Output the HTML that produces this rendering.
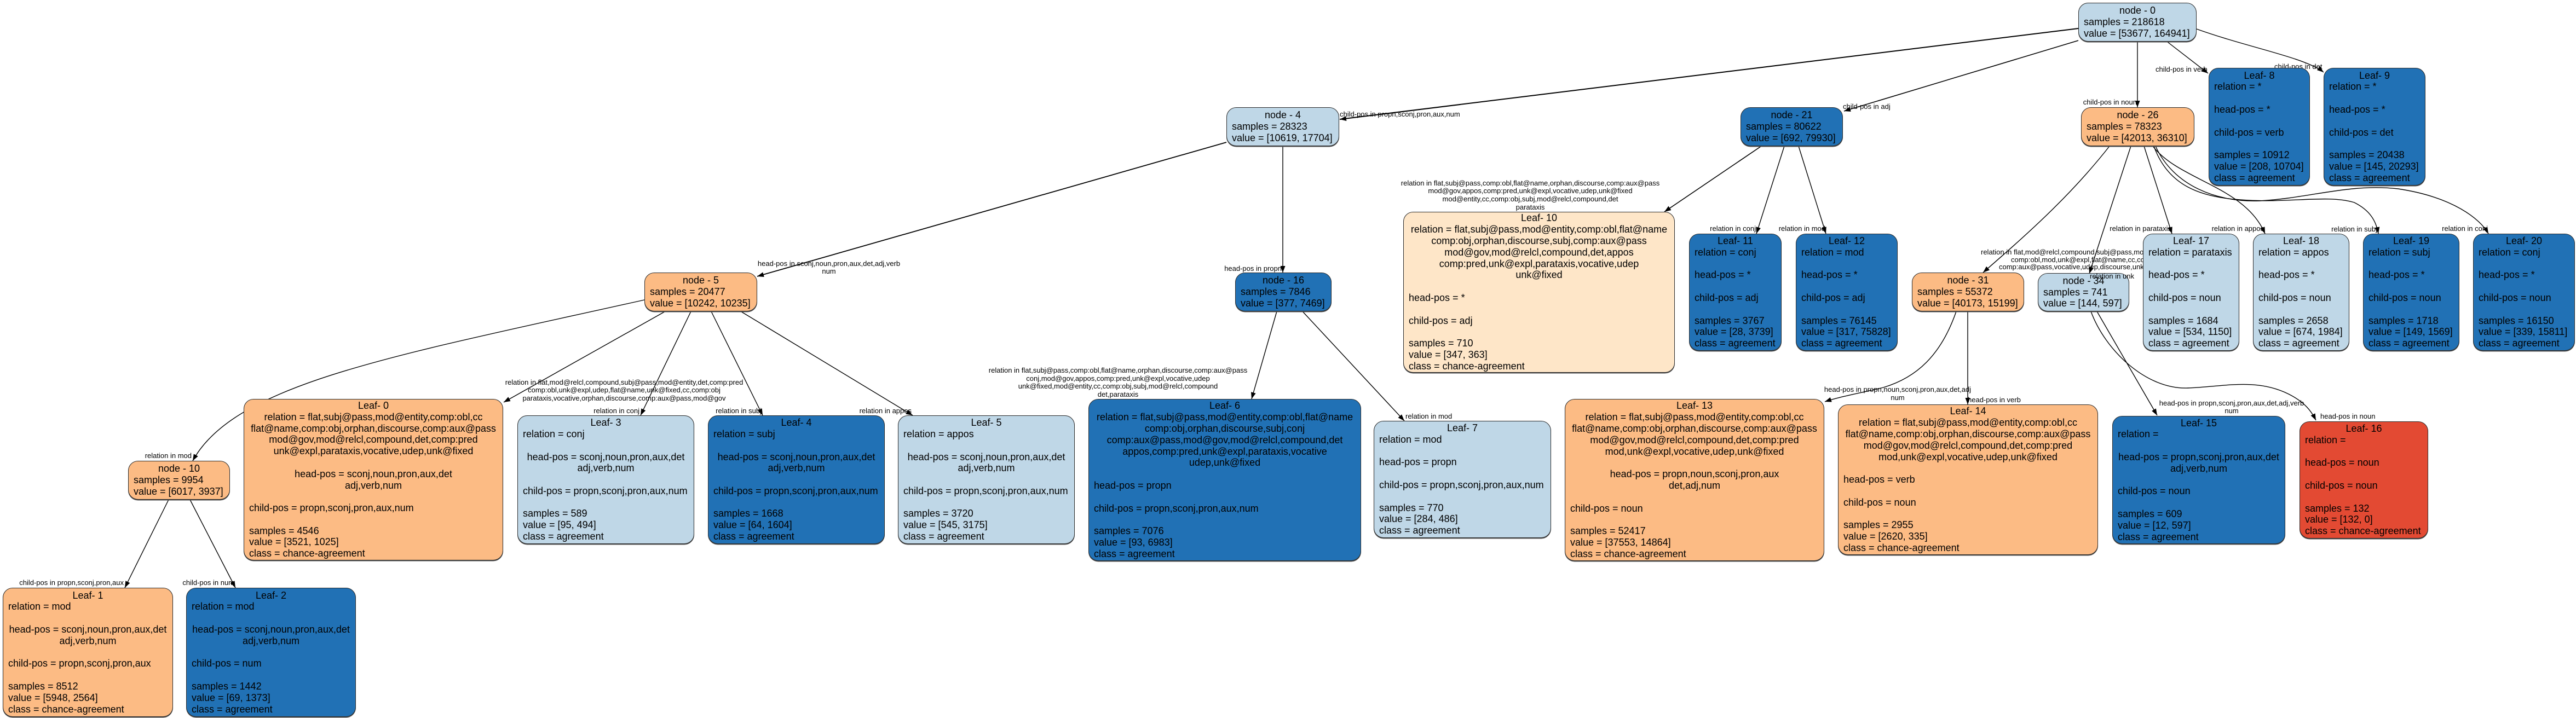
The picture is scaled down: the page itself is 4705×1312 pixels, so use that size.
<!DOCTYPE html>
<html><head><meta charset="utf-8"><style>
html,body{margin:0;padding:0;background:#fff;}
body{width:4705px;height:1312px;position:relative;overflow:hidden;font-family:"Liberation Sans",Arial,sans-serif;}
.n{position:absolute;box-sizing:border-box;border:1.6px solid #2a2a2a;border-radius:18px;display:flex;flex-direction:column;justify-content:center;padding:0 9px;font-size:18px;color:#000;box-shadow:0 1.5px 0 #555;}
.n>div{height:20.8px;line-height:20.8px;white-space:pre;text-align:left;}
.n>div.c{text-align:center;}
.lb{background:#bfd7e7;}
.bl{background:#2171b5;}
.or{background:#fcbb84;}
.pe{background:#fee6c8;}
.rd{background:#e34a33;}
svg{position:absolute;left:0;top:0;}
svg text{font-family:"Liberation Sans",Arial,sans-serif;font-size:13px;fill:#000;}
</style></head><body>
<svg width="4705" height="1312" viewBox="0 0 4705 1312">
<defs><marker id="a" markerUnits="userSpaceOnUse" markerWidth="13" markerHeight="10" refX="12" refY="4.5" orient="auto"><path d="M0,0 L12,4.5 L0,9 z" fill="#000"/></marker></defs>
<g fill="none" stroke="#000" stroke-width="1.4" marker-end="url(#a)">
<path d="M3796,52 L2447,218" stroke-width="2"/>
<path d="M3796,74 L3368,203" stroke-width="1.6"/>
<path d="M3904,76 L3904,196"/>
<path d="M3958,76 L4033,134"/>
<path d="M4012,53 C4110,88 4210,105 4244,132"/>
<path d="M2240,260 L1383,505" stroke-width="1.8"/>
<path d="M2343,267 L2343,498"/>
<path d="M3217,267 L3040,387" stroke-width="1.6"/>
<path d="M3259,267 L3208,427"/>
<path d="M3285,267 L3335,427"/>
<path d="M3853,267 C3780,360 3700,430 3622,498"/>
<path d="M3892,267 L3816,500"/>
<path d="M3916,267 L3967,427"/>
<path d="M3932,267 C3980,330 4100,340 4137,427"/>
<path d="M3934,267 C3960,340 4020,360 4091,365 C4180,372 4250,355 4300,370 C4330,385 4340,405 4344,427"/>
<path d="M3937,267 C3970,340 4050,370 4127,367 C4220,362 4290,335 4380,345 C4480,360 4530,400 4545,427"/>
<path d="M3573,569 C3545,650 3500,690 3440,708 C3390,720 3360,725 3333,734"/>
<path d="M3594,569 L3594,739"/>
<path d="M3830,569 L3940,759"/>
<path d="M3819,569 C3845,640 3920,712 3996,709 C4060,707 4120,690 4180,720 C4210,735 4222,752 4230,768"/>
<path d="M1177,548 C720,650 430,700 352,842"/>
<path d="M1215,569 L920,735"/>
<path d="M1262,569 L1170,759"/>
<path d="M1299,569 L1393,759"/>
<path d="M1353,569 L1667,759"/>
<path d="M308,913 L228,1074"/>
<path d="M347,913 L430,1074"/>
<path d="M2332,569 L2286,729"/>
<path d="M2379,569 L2565,769"/>
</g>
<text x="226" y="1069" text-anchor="end">child-pos in propn,sconj,pron,aux</text>
<text x="428" y="1069" text-anchor="end">child-pos in num</text>
<text x="350" y="837" text-anchor="end">relation in mod</text>
<text x="1140" y="703" text-anchor="middle">relation in flat,mod@relcl,compound,subj@pass,mod@entity,det,comp:pred</text>
<text x="1140" y="717" text-anchor="middle">comp:obl,unk@expl,udep,flat@name,unk@fixed,cc,comp:obj</text>
<text x="1140" y="732" text-anchor="middle">parataxis,vocative,orphan,discourse,comp:aux@pass,mod@gov</text>
<text x="1168" y="755" text-anchor="end">relation in conj</text>
<text x="1391" y="755" text-anchor="end">relation in subj</text>
<text x="1665" y="755" text-anchor="end">relation in appos</text>
<text x="1514" y="486" text-anchor="middle">head-pos in sconj,noun,pron,aux,det,adj,verb</text>
<text x="1514" y="500" text-anchor="middle">num</text>
<text x="2341" y="495" text-anchor="end">head-pos in propn</text>
<text x="2042" y="681" text-anchor="middle">relation in flat,subj@pass,comp:obl,flat@name,orphan,discourse,comp:aux@pass</text>
<text x="2042" y="696" text-anchor="middle">conj,mod@gov,appos,comp:pred,unk@expl,vocative,udep</text>
<text x="2042" y="710" text-anchor="middle">unk@fixed,mod@entity,cc,comp:obj,subj,mod@relcl,compound</text>
<text x="2042" y="725" text-anchor="middle">det,parataxis</text>
<text x="2567" y="765">relation in mod</text>
<text x="2447" y="213">child-pos in propn,sconj,pron,aux,num</text>
<text x="2795" y="339" text-anchor="middle">relation in flat,subj@pass,comp:obl,flat@name,orphan,discourse,comp:aux@pass</text>
<text x="2795" y="353" text-anchor="middle">mod@gov,appos,comp:pred,unk@expl,vocative,udep,unk@fixed</text>
<text x="2795" y="368" text-anchor="middle">mod@entity,cc,comp:obj,subj,mod@relcl,compound,det</text>
<text x="2795" y="383" text-anchor="middle">parataxis</text>
<text x="3207" y="422" text-anchor="end">relation in conj</text>
<text x="3334" y="422" text-anchor="end">relation in mod</text>
<text x="3366" y="199">child-pos in adj</text>
<text x="3903" y="191" text-anchor="end">child-pos in noun</text>
<text x="3937" y="131">child-pos in verb</text>
<text x="4154" y="126">child-pos in det</text>
<text x="3618" y="465">relation in flat,mod@relcl,compound,subj@pass,mod@entity,det,comp:pred</text>
<text x="3673" y="479">comp:obl,mod,unk@expl,flat@name,cc,comp:obj,mod@gov</text>
<text x="3651" y="492">comp:aux@pass,vocative,udep,discourse,unk@fixed,orphan</text>
<text x="3966" y="422" text-anchor="end">relation in parataxis</text>
<text x="4135" y="422" text-anchor="end">relation in appos</text>
<text x="4342" y="423" text-anchor="end">relation in subj</text>
<text x="4544" y="422" text-anchor="end">relation in conj</text>
<text x="3466" y="716" text-anchor="middle">head-pos in propn,noun,sconj,pron,aux,det,adj</text>
<text x="3466" y="731" text-anchor="middle">num</text>
<text x="3594" y="735">head-pos in verb</text>
<text x="4076" y="741" text-anchor="middle">head-pos in propn,sconj,pron,aux,det,adj,verb</text>
<text x="4076" y="755" text-anchor="middle">num</text>
<text x="4238" y="765">head-pos in noun</text>
</svg>

<div class="n lb" style="left:3796px;top:5px;width:216px;height:71px"><div class="c">node - 0</div><div>samples = 218618</div><div>value = [53677, 164941]</div></div>
<div class="n lb" style="left:2240px;top:196px;width:206px;height:71px"><div class="c">node - 4</div><div>samples = 28323</div><div>value = [10619, 17704]</div></div>
<div class="n bl" style="left:3179px;top:196px;width:187px;height:71px"><div class="c">node - 21</div><div>samples = 80622</div><div>value = [692, 79930]</div></div>
<div class="n or" style="left:3801px;top:196px;width:207px;height:71px"><div class="c">node - 26</div><div>samples = 78323</div><div>value = [42013, 36310]</div></div>
<div class="n or" style="left:1177px;top:498px;width:206px;height:71px"><div class="c">node - 5</div><div>samples = 20477</div><div>value = [10242, 10235]</div></div>
<div class="n bl" style="left:2256px;top:498px;width:176px;height:71px"><div class="c">node - 16</div><div>samples = 7846</div><div>value = [377, 7469]</div></div>
<div class="n or" style="left:234px;top:842px;width:186px;height:71px"><div class="c">node - 10</div><div>samples = 9954</div><div>value = [6017, 3937]</div></div>
<div class="n or" style="left:3492px;top:498px;width:205px;height:71px"><div class="c">node - 31</div><div>samples = 55372</div><div>value = [40173, 15199]</div></div>
<div class="n lb" style="left:3722px;top:499px;width:167px;height:70px"><div class="c">node - 34</div><div>samples = 741</div><div>value = [144, 597]</div></div>

<div class="n bl" style="left:4034px;top:124px;width:185px;height:215px"><div class="c">Leaf- 8</div><div>relation = *</div><div></div><div>head-pos = *</div><div></div><div>child-pos = verb</div><div></div><div>samples = 10912</div><div>value = [208, 10704]</div><div>class = agreement</div></div>
<div class="n bl" style="left:4244px;top:124px;width:186px;height:215px"><div class="c">Leaf- 9</div><div>relation = *</div><div></div><div>head-pos = *</div><div></div><div>child-pos = det</div><div></div><div>samples = 20438</div><div>value = [145, 20293]</div><div>class = agreement</div></div>

<div class="n or" style="left:445px;top:729px;width:474px;height:295px"><div class="c">Leaf- 0</div><div class="c">relation = flat,subj@pass,mod@entity,comp:obl,cc</div><div class="c">flat@name,comp:obj,orphan,discourse,comp:aux@pass</div><div class="c">mod@gov,mod@relcl,compound,det,comp:pred</div><div class="c">unk@expl,parataxis,vocative,udep,unk@fixed</div><div></div><div class="c">head-pos = sconj,noun,pron,aux,det</div><div class="c">adj,verb,num</div><div></div><div>child-pos = propn,sconj,pron,aux,num</div><div></div><div>samples = 4546</div><div>value = [3521, 1025]</div><div>class = chance-agreement</div></div>

<div class="n lb" style="left:945px;top:759px;width:323px;height:235px"><div class="c">Leaf- 3</div><div>relation = conj</div><div></div><div class="c">head-pos = sconj,noun,pron,aux,det</div><div class="c">adj,verb,num</div><div></div><div>child-pos = propn,sconj,pron,aux,num</div><div></div><div>samples = 589</div><div>value = [95, 494]</div><div>class = agreement</div></div>
<div class="n bl" style="left:1293px;top:759px;width:323px;height:235px"><div class="c">Leaf- 4</div><div>relation = subj</div><div></div><div class="c">head-pos = sconj,noun,pron,aux,det</div><div class="c">adj,verb,num</div><div></div><div>child-pos = propn,sconj,pron,aux,num</div><div></div><div>samples = 1668</div><div>value = [64, 1604]</div><div>class = agreement</div></div>
<div class="n lb" style="left:1640px;top:759px;width:323px;height:235px"><div class="c">Leaf- 5</div><div>relation = appos</div><div></div><div class="c">head-pos = sconj,noun,pron,aux,det</div><div class="c">adj,verb,num</div><div></div><div>child-pos = propn,sconj,pron,aux,num</div><div></div><div>samples = 3720</div><div>value = [545, 3175]</div><div>class = agreement</div></div>

<div class="n bl" style="left:1988px;top:729px;width:498px;height:296px"><div class="c">Leaf- 6</div><div class="c">relation = flat,subj@pass,mod@entity,comp:obl,flat@name</div><div class="c">comp:obj,orphan,discourse,subj,conj</div><div class="c">comp:aux@pass,mod@gov,mod@relcl,compound,det</div><div class="c">appos,comp:pred,unk@expl,parataxis,vocative</div><div class="c">udep,unk@fixed</div><div></div><div>head-pos = propn</div><div></div><div>child-pos = propn,sconj,pron,aux,num</div><div></div><div>samples = 7076</div><div>value = [93, 6983]</div><div>class = agreement</div></div>

<div class="n lb" style="left:2509px;top:769px;width:324px;height:214px"><div class="c">Leaf- 7</div><div>relation = mod</div><div></div><div>head-pos = propn</div><div></div><div>child-pos = propn,sconj,pron,aux,num</div><div></div><div>samples = 770</div><div>value = [284, 486]</div><div>class = agreement</div></div>

<div class="n pe" style="left:2563px;top:387px;width:496px;height:294px"><div class="c">Leaf- 10</div><div class="c">relation = flat,subj@pass,mod@entity,comp:obl,flat@name</div><div class="c">comp:obj,orphan,discourse,subj,comp:aux@pass</div><div class="c">mod@gov,mod@relcl,compound,det,appos</div><div class="c">comp:pred,unk@expl,parataxis,vocative,udep</div><div class="c">unk@fixed</div><div></div><div>head-pos = *</div><div></div><div>child-pos = adj</div><div></div><div>samples = 710</div><div>value = [347, 363]</div><div>class = chance-agreement</div></div>

<div class="n bl" style="left:3085px;top:427px;width:169px;height:214px"><div class="c">Leaf- 11</div><div>relation = conj</div><div></div><div>head-pos = *</div><div></div><div>child-pos = adj</div><div></div><div>samples = 3767</div><div>value = [28, 3739]</div><div>class = agreement</div></div>
<div class="n bl" style="left:3280px;top:427px;width:186px;height:214px"><div class="c">Leaf- 12</div><div>relation = mod</div><div></div><div>head-pos = *</div><div></div><div>child-pos = adj</div><div></div><div>samples = 76145</div><div>value = [317, 75828]</div><div>class = agreement</div></div>

<div class="n lb" style="left:3914px;top:427px;width:176px;height:214px"><div class="c">Leaf- 17</div><div>relation = parataxis</div><div></div><div>head-pos = *</div><div></div><div>child-pos = noun</div><div></div><div>samples = 1684</div><div>value = [534, 1150]</div><div>class = agreement</div></div>
<div class="n lb" style="left:4115px;top:427px;width:176px;height:214px"><div class="c">Leaf- 18</div><div>relation = appos</div><div></div><div>head-pos = *</div><div></div><div>child-pos = noun</div><div></div><div>samples = 2658</div><div>value = [674, 1984]</div><div>class = agreement</div></div>
<div class="n bl" style="left:4316px;top:427px;width:176px;height:214px"><div class="c">Leaf- 19</div><div>relation = subj</div><div></div><div>head-pos = *</div><div></div><div>child-pos = noun</div><div></div><div>samples = 1718</div><div>value = [149, 1569]</div><div>class = agreement</div></div>
<div class="n bl" style="left:4517px;top:427px;width:186px;height:214px"><div class="c">Leaf- 20</div><div>relation = conj</div><div></div><div>head-pos = *</div><div></div><div>child-pos = noun</div><div></div><div>samples = 16150</div><div>value = [339, 15811]</div><div>class = agreement</div></div>

<div class="n or" style="left:2858px;top:729px;width:474px;height:296px"><div class="c">Leaf- 13</div><div class="c">relation = flat,subj@pass,mod@entity,comp:obl,cc</div><div class="c">flat@name,comp:obj,orphan,discourse,comp:aux@pass</div><div class="c">mod@gov,mod@relcl,compound,det,comp:pred</div><div class="c">mod,unk@expl,vocative,udep,unk@fixed</div><div></div><div class="c">head-pos = propn,noun,sconj,pron,aux</div><div class="c">det,adj,num</div><div></div><div>child-pos = noun</div><div></div><div>samples = 52417</div><div>value = [37553, 14864]</div><div>class = chance-agreement</div></div>
<div class="n or" style="left:3357px;top:739px;width:475px;height:275px"><div class="c">Leaf- 14</div><div class="c">relation = flat,subj@pass,mod@entity,comp:obl,cc</div><div class="c">flat@name,comp:obj,orphan,discourse,comp:aux@pass</div><div class="c">mod@gov,mod@relcl,compound,det,comp:pred</div><div class="c">mod,unk@expl,vocative,udep,unk@fixed</div><div></div><div>head-pos = verb</div><div></div><div>child-pos = noun</div><div></div><div>samples = 2955</div><div>value = [2620, 335]</div><div>class = chance-agreement</div></div>

<div class="n bl" style="left:3858px;top:760px;width:316px;height:234px"><div class="c">Leaf- 15</div><div>relation = </div><div></div><div class="c">head-pos = propn,sconj,pron,aux,det</div><div class="c">adj,verb,num</div><div></div><div>child-pos = noun</div><div></div><div>samples = 609</div><div>value = [12, 597]</div><div>class = agreement</div></div>
<div class="n rd" style="left:4200px;top:770px;width:235px;height:214px"><div class="c">Leaf- 16</div><div>relation = </div><div></div><div>head-pos = noun</div><div></div><div>child-pos = noun</div><div></div><div>samples = 132</div><div>value = [132, 0]</div><div>class = chance-agreement</div></div>

<div class="n or" style="left:5px;top:1074px;width:311px;height:236px"><div class="c">Leaf- 1</div><div>relation = mod</div><div></div><div class="c">head-pos = sconj,noun,pron,aux,det</div><div class="c">adj,verb,num</div><div></div><div>child-pos = propn,sconj,pron,aux</div><div></div><div>samples = 8512</div><div>value = [5948, 2564]</div><div>class = chance-agreement</div></div>
<div class="n bl" style="left:340px;top:1074px;width:310px;height:236px"><div class="c">Leaf- 2</div><div>relation = mod</div><div></div><div class="c">head-pos = sconj,noun,pron,aux,det</div><div class="c">adj,verb,num</div><div></div><div>child-pos = num</div><div></div><div>samples = 1442</div><div>value = [69, 1373]</div><div>class = agreement</div></div>

<svg width="4705" height="1312" viewBox="0 0 4705 1312" style="pointer-events:none">
<text x="3817" y="509">relation in unk</text>
</svg>
</body></html>
